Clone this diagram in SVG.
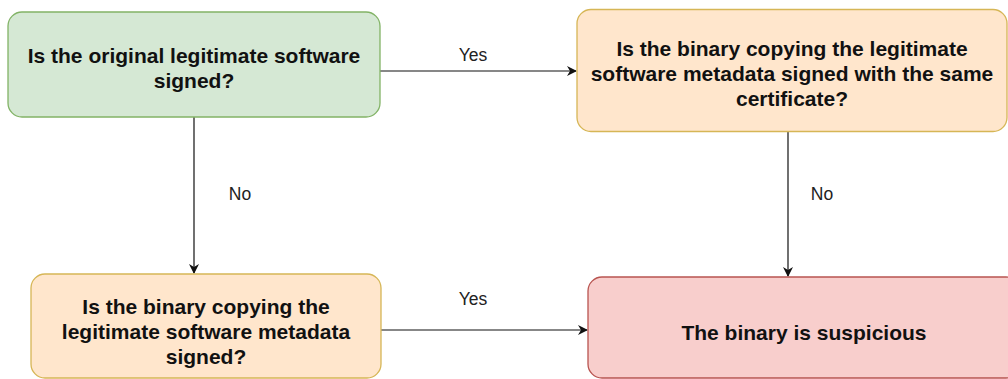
<svg xmlns="http://www.w3.org/2000/svg" width="1008" height="379" viewBox="0 0 1008 379">
<style>
.box{stroke-width:1.3}
.green{fill:#d5e8d4;stroke:#82b366}
.orange{fill:#ffe6cc;stroke:#d6b656}
.red{fill:#f8cecc;stroke:#b85450}
.t{font-family:"Liberation Sans",Arial,sans-serif;font-size:21px;font-weight:bold;fill:#111;text-anchor:middle}
.lbl{font-family:"Liberation Sans",Arial,sans-serif;font-size:17.5px;fill:#222;text-anchor:middle}
.edge{stroke:#111;stroke-width:1.2;fill:none}
</style>
<defs>
<marker id="arr" viewBox="0 0 10 10" refX="9" refY="5" markerWidth="10" markerHeight="10" markerUnits="userSpaceOnUse" orient="auto">
<path d="M0,0 L10,5 L0,10 L3,5 Z" fill="#111"/>
</marker>
</defs>
<g id="connectors">
<line class="edge" x1="380" y1="71" x2="576" y2="71" marker-end="url(#arr)"/>
<text class="lbl" x="473" y="61">Yes</text>
<line class="edge" x1="194" y1="117" x2="194" y2="273" marker-end="url(#arr)"/>
<text class="lbl" x="240" y="200">No</text>
<line class="edge" x1="788" y1="132" x2="788" y2="276" marker-end="url(#arr)"/>
<text class="lbl" x="822" y="200">No</text>
<line class="edge" x1="381" y1="330" x2="587" y2="330" marker-end="url(#arr)"/>
<text class="lbl" x="473" y="305">Yes</text>
</g>
<g id="n1">
<rect class="box green" x="8" y="12" width="372" height="105" rx="14"/>
<text class="t" x="194" y="62.5">Is the original legitimate software</text>
<text class="t" x="194" y="87.5">signed?</text>
</g>
<g id="n2">
<rect class="box orange" x="577" y="9.5" width="430" height="122" rx="14"/>
<text class="t" x="792" y="55.5">Is the binary copying the legitimate</text>
<text class="t" x="792" y="80.5">software metadata signed with the same</text>
<text class="t" x="792" y="105.5">certificate?</text>
</g>
<g id="n3">
<rect class="box orange" x="31" y="274" width="350" height="104" rx="14"/>
<text class="t" x="206" y="314">Is the binary copying the</text>
<text class="t" x="206" y="339">legitimate software metadata</text>
<text class="t" x="206" y="364">signed?</text>
</g>
<g id="n4">
<rect class="box red" x="588" y="277" width="432" height="101" rx="14"/>
<text class="t" x="804" y="340">The binary is suspicious</text>
</g>
</svg>
